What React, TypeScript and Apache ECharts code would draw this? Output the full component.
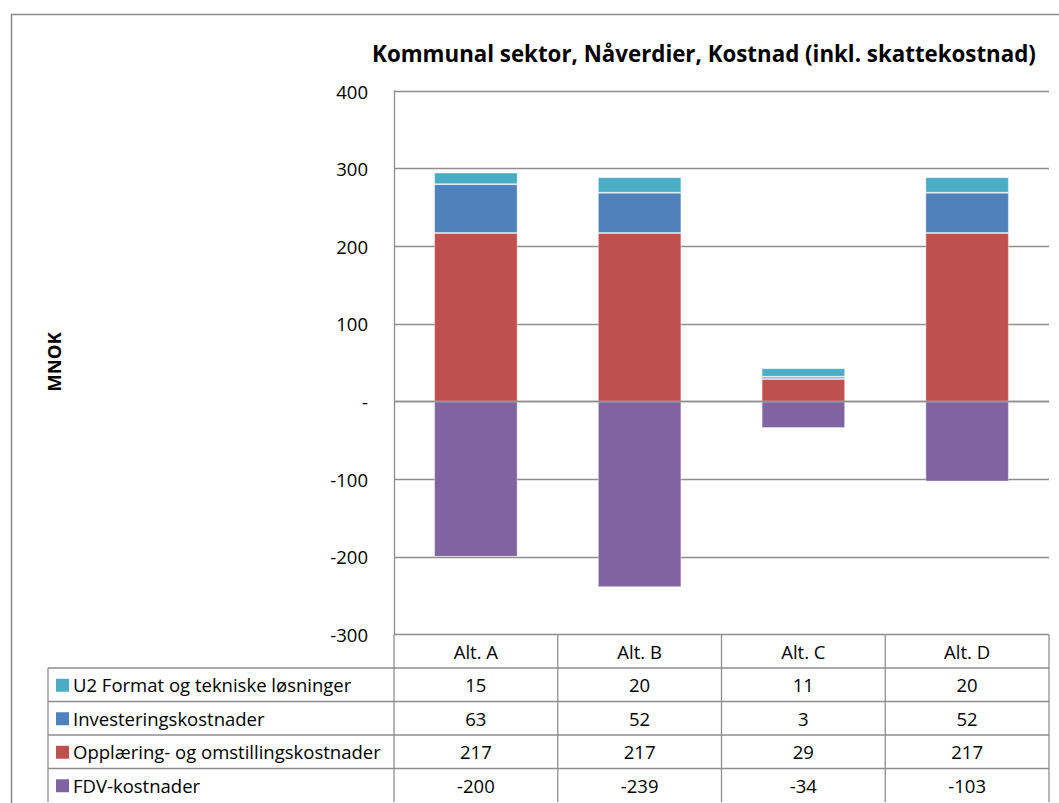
import React, { useEffect, useRef } from "react";
import * as echarts from "echarts";

// Categories (alternatives) and cost components, in MNOK
const categories = ["Alt. A", "Alt. B", "Alt. C", "Alt. D"];
const u2Format = [15, 20, 11, 20];
const investering = [63, 52, 3, 52];
const opplaering = [217, 217, 29, 217];
const fdv = [-200, -239, -34, -103];

const seriesNames = [
  "U2 Format og tekniske løsninger",
  "Investeringskostnader",
  "Opplæring- og omstillingskostnader",
  "FDV-kostnader",
];
const seriesColors = ["#4BACC6", "#4F81BD", "#C0504D", "#8064A2"];
const seriesValues = [u2Format, investering, opplaering, fdv];

const yTicks = { min: -300, max: 400, interval: 100 };

const FONT = "'Open Sans', 'Noto Sans', sans-serif";
const LINE = "#8e8e8e";
const TABLE_FONT = `18.5px ${FONT}`;

// Layout of the plot area and the data table under it
const W = 1059;
const H = 803;
const PLOT_L = 394;
const PLOT_R = 1049;
const PLOT_T = 91;
const PLOT_B = 634.5;
const ROW_H = 33.5;
const LEGEND_L = 48;

export default function App() {
  const ref = useRef<HTMLDivElement>(null);

  useEffect(() => {
    if (!ref.current) return;
    const chart = echarts.init(ref.current, undefined, { renderer: "svg" });

    const colW = (PLOT_R - PLOT_L) / categories.length;
    const graphics: any[] = [];

    // outer chart frame
    graphics.push({
      type: "rect",
      shape: { x: 11.5, y: 14.5, width: 1200, height: 1000 },
      style: { fill: "none", stroke: "#8a8a8a", lineWidth: 1.5 },
      silent: true,
    });

    // title
    graphics.push({
      type: "text",
      x: 704,
      y: 53,
      style: {
        text: "Kommunal sektor, Nåverdier, Kostnad (inkl. skattekostnad)",
        font: `bold 22.3px ${FONT}`,
        fill: "#000",
        align: "center",
        verticalAlign: "middle",
      },
    });

    // y-axis title
    graphics.push({
      type: "text",
      x: 53,
      y: 362,
      rotation: Math.PI / 2,
      style: {
        text: "MNOK",
        font: `bold 18.5px ${FONT}`,
        fill: "#000",
        align: "center",
        verticalAlign: "middle",
      },
    });

    // data table: grid lines
    const headerBottom = PLOT_B + ROW_H;
    const tableBottom = headerBottom + ROW_H * seriesNames.length;
    const hLine = (x1: number, x2: number, y: number) =>
      graphics.push({
        type: "line",
        shape: { x1, y1: y, x2, y2: y },
        style: { stroke: LINE, lineWidth: 1.3 },
        silent: true,
      });
    const vLine = (x: number, y1: number, y2: number) =>
      graphics.push({
        type: "line",
        shape: { x1: x, y1, x2: x, y2 },
        style: { stroke: LINE, lineWidth: 1.3 },
        silent: true,
      });

    for (let r = 0; r < seriesNames.length; r++) {
      hLine(LEGEND_L, PLOT_R, headerBottom + r * ROW_H);
    }
    vLine(LEGEND_L, headerBottom, tableBottom);
    for (let c = 0; c <= categories.length; c++) {
      vLine(PLOT_L + c * colW, PLOT_B, tableBottom);
    }

    // header labels
    categories.forEach((cat, c) => {
      graphics.push({
        type: "text",
        x: PLOT_L + (c + 0.5) * colW,
        y: PLOT_B + ROW_H / 2,
        style: {
          text: cat,
          font: TABLE_FONT,
          fill: "#000",
          align: "center",
          verticalAlign: "middle",
        },
      });
    });

    // rows: legend key, series name and values
    seriesNames.forEach((name, r) => {
      const cy = headerBottom + (r + 0.5) * ROW_H;
      graphics.push({
        type: "rect",
        shape: { x: 56, y: cy - 6, width: 13, height: 13 },
        style: { fill: seriesColors[r] },
      });
      graphics.push({
        type: "text",
        x: 73,
        y: cy,
        style: {
          text: name,
          font: TABLE_FONT,
          fill: "#000",
          align: "left",
          verticalAlign: "middle",
        },
      });
      seriesValues[r].forEach((v, c) => {
        graphics.push({
          type: "text",
          x: PLOT_L + (c + 0.5) * colW,
          y: cy,
          style: {
            text: String(v),
            font: TABLE_FONT,
            fill: "#000",
            align: "center",
            verticalAlign: "middle",
          },
        });
      });
    });

    // stacking order from the axis outwards: FDV (negative), Opplæring, Investering, U2
    const order = [3, 2, 1, 0];
    const series = order.map((i, k) => ({
      name: seriesNames[i],
      type: "bar",
      stack: "total",
      barWidth: "51%",
      data: seriesValues[i],
      itemStyle: {
        color: seriesColors[i],
        borderColor: "rgba(255,255,255,0.35)",
        borderWidth: 1,
      },
      ...(k === order.length - 1
        ? {
            markLine: {
              silent: true,
              symbol: ["none", "none"],
              label: { show: false },
              lineStyle: { color: LINE, width: 1.3, type: "solid" },
              data: [{ yAxis: 0 }],
            },
          }
        : {}),
    }));

    chart.setOption({
      animation: false,
      backgroundColor: "#fff",
      grid: {
        left: PLOT_L,
        right: W - PLOT_R,
        top: PLOT_T,
        bottom: H - PLOT_B,
        containLabel: false,
      },
      xAxis: {
        type: "category",
        data: categories,
        axisLine: { show: false },
        axisTick: { show: false },
        axisLabel: { show: false },
      },
      yAxis: {
        type: "value",
        min: yTicks.min,
        max: yTicks.max,
        interval: yTicks.interval,
        axisLine: { show: true, lineStyle: { color: LINE, width: 1.3 } },
        axisTick: { show: false },
        splitLine: { show: true, lineStyle: { color: LINE, width: 1.3 } },
        axisLabel: {
          margin: 26,
          fontFamily: FONT,
          fontSize: 18.5,
          color: "#000",
          formatter: (v: number) => (v === 0 ? "-" : String(v)),
        },
      },
      series,
      graphic: graphics,
    });

    return () => chart.dispose();
  }, []);

  return (
    <div
      ref={ref}
      style={{ position: "fixed", left: 0, top: 0, width: W, height: H }}
    />
  );
}
